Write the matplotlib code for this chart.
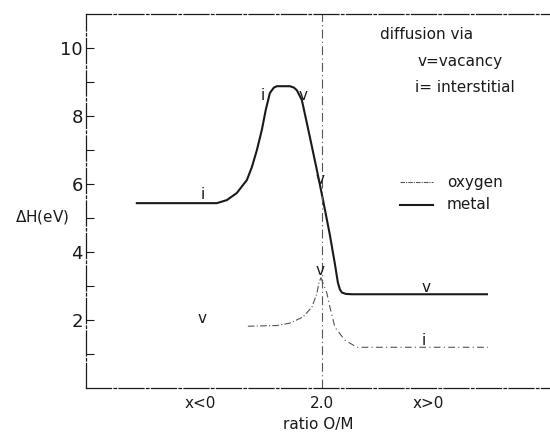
import matplotlib.pyplot as plt
import numpy as np

# ratio O/M (2.0 = stoichiometric)
metal_x = [1.815, 1.895, 1.905, 1.915, 1.925, 1.930, 1.935, 1.940, 1.944, 1.948,
           1.952, 1.955, 1.968, 1.972, 1.975, 1.980, 1.988, 1.995, 2.001, 2.008,
           2.013, 2.016, 2.018, 2.020, 2.024, 2.030, 2.165]
metal_h = [5.44, 5.44, 5.53, 5.74, 6.12, 6.5, 7.0, 7.6, 8.2, 8.68,
           8.84, 8.88, 8.88, 8.84, 8.76, 8.47, 7.38, 6.41, 5.55, 4.5,
           3.65, 3.1, 2.9, 2.81, 2.77, 2.76, 2.76]

oxy_left_x = [1.926, 1.955, 1.968, 1.981, 1.990, 1.995, 1.997, 1.999]
oxy_left_h = [1.82, 1.84, 1.91, 2.09, 2.38, 2.79, 3.09, 3.25]
oxy_right_x = [1.999, 2.005, 2.008, 2.013, 2.023, 2.035, 2.166]
oxy_right_h = [3.25, 2.79, 2.38, 1.79, 1.41, 1.2, 1.2]

labels = [(1.881, 5.68, 'i'), (1.941, 8.6, 'i'), (1.981, 8.6, 'v'), (1.998, 6.15, 'v'),
          (1.998, 3.45, 'v'), (2.104, 2.95, 'v'), (1.880, 2.05, 'v'), (2.102, 1.4, 'i')]

xticks = [1.878, 2.0, 2.106]
xticklabels = ['x<0', '2.0', 'x>0']

plt.rcParams['font.family'] = 'DejaVu Sans'
ink = '#1a1a1a'

fig = plt.figure(figsize=(5.5, 4.42), dpi=100)
ax = fig.add_axes([0.156, 0.122, 0.844, 0.846])

ax.plot(metal_x, metal_h, color=ink, lw=1.5, solid_joinstyle='round')
ax.plot(oxy_left_x, oxy_left_h, color='#555555', lw=0.8, ls=(0, (6, 2, 1, 2)))
ax.plot(oxy_right_x, oxy_right_h, color='#555555', lw=0.8, ls=(0, (6, 3, 1, 3)))
ax.axvline(2.0, color='#555555', lw=0.8, ls=(0, (8, 3, 1, 3)))

for x, y, s in labels:
    ax.text(x, y, s, ha='center', va='center', fontsize=11, color=ink)

# legend drawn by hand like the original
ax.plot([2.078, 2.111], [6.05, 6.05], color='#555555', lw=0.8, ls=(0, (4, 1, 1, 1)))
ax.plot([2.078, 2.111], [5.4, 5.4], color=ink, lw=1.5)
ax.text(2.125, 6.05, 'oxygen', va='center', fontsize=11, color=ink)
ax.text(2.125, 5.4, 'metal', va='center', fontsize=11, color=ink)

ax.text(2.058, 10.4, 'diffusion via', va='center', fontsize=11, color=ink)
ax.text(2.096, 9.6, 'v=vacancy', va='center', fontsize=11, color=ink)
ax.text(2.093, 8.85, 'i= interstitial', va='center', fontsize=11, color=ink)

ax.set_xlim(1.764, 2.228)
ax.set_ylim(0, 11)
ax.set_yticks([2, 4, 6, 8, 10])
ax.set_yticks([1, 3, 5, 7, 9], minor=True)
ax.set_xticks(xticks)
ax.set_xticklabels(xticklabels)
ax.tick_params(axis='y', which='both', direction='in', length=6, width=0.8,
               labelsize=13, colors=ink, pad=2)
ax.tick_params(axis='x', length=0, labelsize=11, colors=ink, pad=6)

ax.spines['right'].set_visible(False)
for side in ['left', 'top', 'bottom']:
    ax.spines[side].set_linestyle((0, (20, 2, 2, 2)))
    ax.spines[side].set_linewidth(0.9)
    ax.spines[side].set_color(ink)

ax.set_xlabel('ratio O/M', fontsize=11, color=ink, labelpad=4)
fig.text(0.028, 0.508, r'$\Delta$H(eV)', fontsize=11, va='center', color=ink)

fig.savefig('out.png', dpi=100)
